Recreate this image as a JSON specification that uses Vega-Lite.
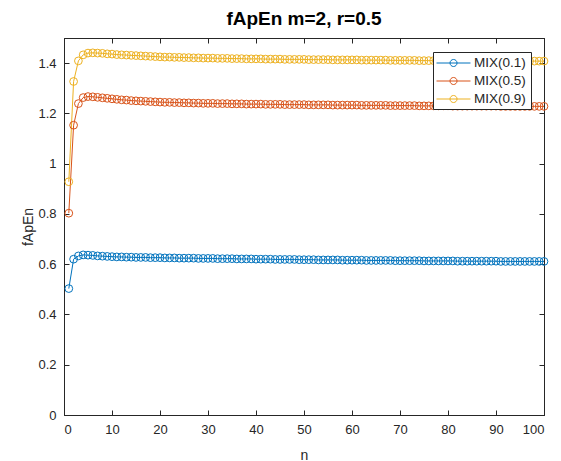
{
  "$schema": "https://vega.github.io/schema/vega-lite/v6.json",
  "autosize": {"type": "none"},
  "width": 480,
  "height": 377,
  "padding": {"left": 64, "top": 38, "right": 17, "bottom": 46},
  "background": "white",
  "title": {"text": "fApEn m=2, r=0.5", "fontSize": 19, "fontWeight": "bold", "font": "Liberation Sans", "color": "#000000", "anchor": "middle", "offset": 9},
  "config": {
    "font": "Liberation Sans",
    "view": {"stroke": "#262626", "strokeWidth": 1},
    "axis": {"grid": false, "domainColor": "#262626", "tickColor": "#262626", "labelColor": "#262626", "titleColor": "#262626", "labelFont": "Liberation Sans", "titleFont": "Liberation Sans", "labelFontSize": 13, "titleFontSize": 14, "titleFontWeight": "normal", "tickSize": -5, "labelPadding": 13}
  },
  "data": {"values": [
{"n":1,"s":"MIX(0.1)","v":0.503},{"n":2,"s":"MIX(0.1)","v":0.620},{"n":3,"s":"MIX(0.1)","v":0.633},{"n":4,"s":"MIX(0.1)","v":0.637},{"n":5,"s":"MIX(0.1)","v":0.636},{"n":6,"s":"MIX(0.1)","v":0.635},{"n":7,"s":"MIX(0.1)","v":0.633},{"n":8,"s":"MIX(0.1)","v":0.632},{"n":9,"s":"MIX(0.1)","v":0.631},{"n":10,"s":"MIX(0.1)","v":0.630},
{"n":11,"s":"MIX(0.1)","v":0.629},{"n":12,"s":"MIX(0.1)","v":0.629},{"n":13,"s":"MIX(0.1)","v":0.628},{"n":14,"s":"MIX(0.1)","v":0.628},{"n":15,"s":"MIX(0.1)","v":0.627},{"n":16,"s":"MIX(0.1)","v":0.627},{"n":17,"s":"MIX(0.1)","v":0.627},{"n":18,"s":"MIX(0.1)","v":0.626},{"n":19,"s":"MIX(0.1)","v":0.626},{"n":20,"s":"MIX(0.1)","v":0.626},
{"n":21,"s":"MIX(0.1)","v":0.625},{"n":22,"s":"MIX(0.1)","v":0.625},{"n":23,"s":"MIX(0.1)","v":0.625},{"n":24,"s":"MIX(0.1)","v":0.624},{"n":25,"s":"MIX(0.1)","v":0.624},{"n":26,"s":"MIX(0.1)","v":0.624},{"n":27,"s":"MIX(0.1)","v":0.624},{"n":28,"s":"MIX(0.1)","v":0.623},{"n":29,"s":"MIX(0.1)","v":0.623},{"n":30,"s":"MIX(0.1)","v":0.623},
{"n":31,"s":"MIX(0.1)","v":0.623},{"n":32,"s":"MIX(0.1)","v":0.622},{"n":33,"s":"MIX(0.1)","v":0.622},{"n":34,"s":"MIX(0.1)","v":0.622},{"n":35,"s":"MIX(0.1)","v":0.622},{"n":36,"s":"MIX(0.1)","v":0.621},{"n":37,"s":"MIX(0.1)","v":0.621},{"n":38,"s":"MIX(0.1)","v":0.621},{"n":39,"s":"MIX(0.1)","v":0.621},{"n":40,"s":"MIX(0.1)","v":0.620},
{"n":41,"s":"MIX(0.1)","v":0.620},{"n":42,"s":"MIX(0.1)","v":0.620},{"n":43,"s":"MIX(0.1)","v":0.620},{"n":44,"s":"MIX(0.1)","v":0.619},{"n":45,"s":"MIX(0.1)","v":0.619},{"n":46,"s":"MIX(0.1)","v":0.619},{"n":47,"s":"MIX(0.1)","v":0.619},{"n":48,"s":"MIX(0.1)","v":0.619},{"n":49,"s":"MIX(0.1)","v":0.618},{"n":50,"s":"MIX(0.1)","v":0.618},
{"n":51,"s":"MIX(0.1)","v":0.618},{"n":52,"s":"MIX(0.1)","v":0.618},{"n":53,"s":"MIX(0.1)","v":0.617},{"n":54,"s":"MIX(0.1)","v":0.617},{"n":55,"s":"MIX(0.1)","v":0.617},{"n":56,"s":"MIX(0.1)","v":0.617},{"n":57,"s":"MIX(0.1)","v":0.617},{"n":58,"s":"MIX(0.1)","v":0.616},{"n":59,"s":"MIX(0.1)","v":0.616},{"n":60,"s":"MIX(0.1)","v":0.616},
{"n":61,"s":"MIX(0.1)","v":0.616},{"n":62,"s":"MIX(0.1)","v":0.616},{"n":63,"s":"MIX(0.1)","v":0.615},{"n":64,"s":"MIX(0.1)","v":0.615},{"n":65,"s":"MIX(0.1)","v":0.615},{"n":66,"s":"MIX(0.1)","v":0.615},{"n":67,"s":"MIX(0.1)","v":0.615},{"n":68,"s":"MIX(0.1)","v":0.615},{"n":69,"s":"MIX(0.1)","v":0.614},{"n":70,"s":"MIX(0.1)","v":0.614},
{"n":71,"s":"MIX(0.1)","v":0.614},{"n":72,"s":"MIX(0.1)","v":0.614},{"n":73,"s":"MIX(0.1)","v":0.614},{"n":74,"s":"MIX(0.1)","v":0.614},{"n":75,"s":"MIX(0.1)","v":0.613},{"n":76,"s":"MIX(0.1)","v":0.613},{"n":77,"s":"MIX(0.1)","v":0.613},{"n":78,"s":"MIX(0.1)","v":0.613},{"n":79,"s":"MIX(0.1)","v":0.613},{"n":80,"s":"MIX(0.1)","v":0.613},
{"n":81,"s":"MIX(0.1)","v":0.613},{"n":82,"s":"MIX(0.1)","v":0.612},{"n":83,"s":"MIX(0.1)","v":0.612},{"n":84,"s":"MIX(0.1)","v":0.612},{"n":85,"s":"MIX(0.1)","v":0.612},{"n":86,"s":"MIX(0.1)","v":0.612},{"n":87,"s":"MIX(0.1)","v":0.612},{"n":88,"s":"MIX(0.1)","v":0.612},{"n":89,"s":"MIX(0.1)","v":0.612},{"n":90,"s":"MIX(0.1)","v":0.612},
{"n":91,"s":"MIX(0.1)","v":0.611},{"n":92,"s":"MIX(0.1)","v":0.611},{"n":93,"s":"MIX(0.1)","v":0.611},{"n":94,"s":"MIX(0.1)","v":0.611},{"n":95,"s":"MIX(0.1)","v":0.611},{"n":96,"s":"MIX(0.1)","v":0.611},{"n":97,"s":"MIX(0.1)","v":0.611},{"n":98,"s":"MIX(0.1)","v":0.611},{"n":99,"s":"MIX(0.1)","v":0.611},{"n":100,"s":"MIX(0.1)","v":0.611},
{"n":1,"s":"MIX(0.5)","v":0.803},{"n":2,"s":"MIX(0.5)","v":1.153},{"n":3,"s":"MIX(0.5)","v":1.239},{"n":4,"s":"MIX(0.5)","v":1.263},{"n":5,"s":"MIX(0.5)","v":1.267},{"n":6,"s":"MIX(0.5)","v":1.266},{"n":7,"s":"MIX(0.5)","v":1.264},{"n":8,"s":"MIX(0.5)","v":1.262},{"n":9,"s":"MIX(0.5)","v":1.260},{"n":10,"s":"MIX(0.5)","v":1.258},
{"n":11,"s":"MIX(0.5)","v":1.256},{"n":12,"s":"MIX(0.5)","v":1.254},{"n":13,"s":"MIX(0.5)","v":1.253},{"n":14,"s":"MIX(0.5)","v":1.251},{"n":15,"s":"MIX(0.5)","v":1.250},{"n":16,"s":"MIX(0.5)","v":1.249},{"n":17,"s":"MIX(0.5)","v":1.248},{"n":18,"s":"MIX(0.5)","v":1.247},{"n":19,"s":"MIX(0.5)","v":1.246},{"n":20,"s":"MIX(0.5)","v":1.245},
{"n":21,"s":"MIX(0.5)","v":1.244},{"n":22,"s":"MIX(0.5)","v":1.244},{"n":23,"s":"MIX(0.5)","v":1.243},{"n":24,"s":"MIX(0.5)","v":1.243},{"n":25,"s":"MIX(0.5)","v":1.242},{"n":26,"s":"MIX(0.5)","v":1.242},{"n":27,"s":"MIX(0.5)","v":1.241},{"n":28,"s":"MIX(0.5)","v":1.241},{"n":29,"s":"MIX(0.5)","v":1.240},{"n":30,"s":"MIX(0.5)","v":1.240},
{"n":31,"s":"MIX(0.5)","v":1.240},{"n":32,"s":"MIX(0.5)","v":1.239},{"n":33,"s":"MIX(0.5)","v":1.239},{"n":34,"s":"MIX(0.5)","v":1.239},{"n":35,"s":"MIX(0.5)","v":1.238},{"n":36,"s":"MIX(0.5)","v":1.238},{"n":37,"s":"MIX(0.5)","v":1.238},{"n":38,"s":"MIX(0.5)","v":1.237},{"n":39,"s":"MIX(0.5)","v":1.237},{"n":40,"s":"MIX(0.5)","v":1.237},
{"n":41,"s":"MIX(0.5)","v":1.237},{"n":42,"s":"MIX(0.5)","v":1.236},{"n":43,"s":"MIX(0.5)","v":1.236},{"n":44,"s":"MIX(0.5)","v":1.236},{"n":45,"s":"MIX(0.5)","v":1.236},{"n":46,"s":"MIX(0.5)","v":1.235},{"n":47,"s":"MIX(0.5)","v":1.235},{"n":48,"s":"MIX(0.5)","v":1.235},{"n":49,"s":"MIX(0.5)","v":1.235},{"n":50,"s":"MIX(0.5)","v":1.235},
{"n":51,"s":"MIX(0.5)","v":1.234},{"n":52,"s":"MIX(0.5)","v":1.234},{"n":53,"s":"MIX(0.5)","v":1.234},{"n":54,"s":"MIX(0.5)","v":1.234},{"n":55,"s":"MIX(0.5)","v":1.234},{"n":56,"s":"MIX(0.5)","v":1.233},{"n":57,"s":"MIX(0.5)","v":1.233},{"n":58,"s":"MIX(0.5)","v":1.233},{"n":59,"s":"MIX(0.5)","v":1.233},{"n":60,"s":"MIX(0.5)","v":1.233},
{"n":61,"s":"MIX(0.5)","v":1.233},{"n":62,"s":"MIX(0.5)","v":1.232},{"n":63,"s":"MIX(0.5)","v":1.232},{"n":64,"s":"MIX(0.5)","v":1.232},{"n":65,"s":"MIX(0.5)","v":1.232},{"n":66,"s":"MIX(0.5)","v":1.232},{"n":67,"s":"MIX(0.5)","v":1.232},{"n":68,"s":"MIX(0.5)","v":1.231},{"n":69,"s":"MIX(0.5)","v":1.231},{"n":70,"s":"MIX(0.5)","v":1.231},
{"n":71,"s":"MIX(0.5)","v":1.231},{"n":72,"s":"MIX(0.5)","v":1.231},{"n":73,"s":"MIX(0.5)","v":1.231},{"n":74,"s":"MIX(0.5)","v":1.230},{"n":75,"s":"MIX(0.5)","v":1.230},{"n":76,"s":"MIX(0.5)","v":1.230},{"n":77,"s":"MIX(0.5)","v":1.230},{"n":78,"s":"MIX(0.5)","v":1.230},{"n":79,"s":"MIX(0.5)","v":1.230},{"n":80,"s":"MIX(0.5)","v":1.230},
{"n":81,"s":"MIX(0.5)","v":1.229},{"n":82,"s":"MIX(0.5)","v":1.229},{"n":83,"s":"MIX(0.5)","v":1.229},{"n":84,"s":"MIX(0.5)","v":1.229},{"n":85,"s":"MIX(0.5)","v":1.229},{"n":86,"s":"MIX(0.5)","v":1.229},{"n":87,"s":"MIX(0.5)","v":1.229},{"n":88,"s":"MIX(0.5)","v":1.229},{"n":89,"s":"MIX(0.5)","v":1.229},{"n":90,"s":"MIX(0.5)","v":1.229},
{"n":91,"s":"MIX(0.5)","v":1.228},{"n":92,"s":"MIX(0.5)","v":1.228},{"n":93,"s":"MIX(0.5)","v":1.228},{"n":94,"s":"MIX(0.5)","v":1.228},{"n":95,"s":"MIX(0.5)","v":1.228},{"n":96,"s":"MIX(0.5)","v":1.228},{"n":97,"s":"MIX(0.5)","v":1.228},{"n":98,"s":"MIX(0.5)","v":1.228},{"n":99,"s":"MIX(0.5)","v":1.228},{"n":100,"s":"MIX(0.5)","v":1.228},
{"n":1,"s":"MIX(0.9)","v":0.928},{"n":2,"s":"MIX(0.9)","v":1.327},{"n":3,"s":"MIX(0.9)","v":1.409},{"n":4,"s":"MIX(0.9)","v":1.433},{"n":5,"s":"MIX(0.9)","v":1.440},{"n":6,"s":"MIX(0.9)","v":1.441},{"n":7,"s":"MIX(0.9)","v":1.440},{"n":8,"s":"MIX(0.9)","v":1.439},{"n":9,"s":"MIX(0.9)","v":1.437},{"n":10,"s":"MIX(0.9)","v":1.436},
{"n":11,"s":"MIX(0.9)","v":1.434},{"n":12,"s":"MIX(0.9)","v":1.433},{"n":13,"s":"MIX(0.9)","v":1.432},{"n":14,"s":"MIX(0.9)","v":1.431},{"n":15,"s":"MIX(0.9)","v":1.430},{"n":16,"s":"MIX(0.9)","v":1.429},{"n":17,"s":"MIX(0.9)","v":1.428},{"n":18,"s":"MIX(0.9)","v":1.427},{"n":19,"s":"MIX(0.9)","v":1.426},{"n":20,"s":"MIX(0.9)","v":1.425},
{"n":21,"s":"MIX(0.9)","v":1.424},{"n":22,"s":"MIX(0.9)","v":1.424},{"n":23,"s":"MIX(0.9)","v":1.423},{"n":24,"s":"MIX(0.9)","v":1.423},{"n":25,"s":"MIX(0.9)","v":1.422},{"n":26,"s":"MIX(0.9)","v":1.422},{"n":27,"s":"MIX(0.9)","v":1.421},{"n":28,"s":"MIX(0.9)","v":1.421},{"n":29,"s":"MIX(0.9)","v":1.420},{"n":30,"s":"MIX(0.9)","v":1.420},
{"n":31,"s":"MIX(0.9)","v":1.420},{"n":32,"s":"MIX(0.9)","v":1.419},{"n":33,"s":"MIX(0.9)","v":1.419},{"n":34,"s":"MIX(0.9)","v":1.419},{"n":35,"s":"MIX(0.9)","v":1.418},{"n":36,"s":"MIX(0.9)","v":1.418},{"n":37,"s":"MIX(0.9)","v":1.418},{"n":38,"s":"MIX(0.9)","v":1.417},{"n":39,"s":"MIX(0.9)","v":1.417},{"n":40,"s":"MIX(0.9)","v":1.417},
{"n":41,"s":"MIX(0.9)","v":1.417},{"n":42,"s":"MIX(0.9)","v":1.416},{"n":43,"s":"MIX(0.9)","v":1.416},{"n":44,"s":"MIX(0.9)","v":1.416},{"n":45,"s":"MIX(0.9)","v":1.416},{"n":46,"s":"MIX(0.9)","v":1.415},{"n":47,"s":"MIX(0.9)","v":1.415},{"n":48,"s":"MIX(0.9)","v":1.415},{"n":49,"s":"MIX(0.9)","v":1.415},{"n":50,"s":"MIX(0.9)","v":1.415},
{"n":51,"s":"MIX(0.9)","v":1.414},{"n":52,"s":"MIX(0.9)","v":1.414},{"n":53,"s":"MIX(0.9)","v":1.414},{"n":54,"s":"MIX(0.9)","v":1.414},{"n":55,"s":"MIX(0.9)","v":1.414},{"n":56,"s":"MIX(0.9)","v":1.413},{"n":57,"s":"MIX(0.9)","v":1.413},{"n":58,"s":"MIX(0.9)","v":1.413},{"n":59,"s":"MIX(0.9)","v":1.413},{"n":60,"s":"MIX(0.9)","v":1.413},
{"n":61,"s":"MIX(0.9)","v":1.413},{"n":62,"s":"MIX(0.9)","v":1.412},{"n":63,"s":"MIX(0.9)","v":1.412},{"n":64,"s":"MIX(0.9)","v":1.412},{"n":65,"s":"MIX(0.9)","v":1.412},{"n":66,"s":"MIX(0.9)","v":1.412},{"n":67,"s":"MIX(0.9)","v":1.412},{"n":68,"s":"MIX(0.9)","v":1.411},{"n":69,"s":"MIX(0.9)","v":1.411},{"n":70,"s":"MIX(0.9)","v":1.411},
{"n":71,"s":"MIX(0.9)","v":1.411},{"n":72,"s":"MIX(0.9)","v":1.411},{"n":73,"s":"MIX(0.9)","v":1.411},{"n":74,"s":"MIX(0.9)","v":1.410},{"n":75,"s":"MIX(0.9)","v":1.410},{"n":76,"s":"MIX(0.9)","v":1.410},{"n":77,"s":"MIX(0.9)","v":1.410},{"n":78,"s":"MIX(0.9)","v":1.410},{"n":79,"s":"MIX(0.9)","v":1.410},{"n":80,"s":"MIX(0.9)","v":1.410},
{"n":81,"s":"MIX(0.9)","v":1.409},{"n":82,"s":"MIX(0.9)","v":1.409},{"n":83,"s":"MIX(0.9)","v":1.409},{"n":84,"s":"MIX(0.9)","v":1.409},{"n":85,"s":"MIX(0.9)","v":1.409},{"n":86,"s":"MIX(0.9)","v":1.409},{"n":87,"s":"MIX(0.9)","v":1.409},{"n":88,"s":"MIX(0.9)","v":1.409},{"n":89,"s":"MIX(0.9)","v":1.409},{"n":90,"s":"MIX(0.9)","v":1.409},
{"n":91,"s":"MIX(0.9)","v":1.408},{"n":92,"s":"MIX(0.9)","v":1.408},{"n":93,"s":"MIX(0.9)","v":1.408},{"n":94,"s":"MIX(0.9)","v":1.408},{"n":95,"s":"MIX(0.9)","v":1.408},{"n":96,"s":"MIX(0.9)","v":1.408},{"n":97,"s":"MIX(0.9)","v":1.408},{"n":98,"s":"MIX(0.9)","v":1.408},{"n":99,"s":"MIX(0.9)","v":1.408},{"n":100,"s":"MIX(0.9)","v":1.408}
  ]},
  "resolve": {"axis": {"x": "independent", "y": "independent"}},
  "layer": [
    {
      "mark": {"type": "line", "strokeWidth": 1},
      "encoding": {
        "x": {"field": "n", "type": "quantitative", "scale": {"domain": [0, 100], "nice": false}, "axis": {"orient": "bottom", "values": [0,10,20,30,40,50,60,70,80,90,100], "title": "n", "titlePadding": 12}},
        "y": {"field": "v", "type": "quantitative", "scale": {"domain": [0, 1.5], "nice": false, "zero": true}, "axis": {"orient": "left", "values": [0,0.2,0.4,0.6,0.8,1,1.2,1.4], "format": ".2~f", "title": "fApEn", "titlePadding": 2}},
        "color": {"field": "s", "type": "nominal", "scale": {"domain": ["MIX(0.1)", "MIX(0.5)", "MIX(0.9)"], "range": ["#0072BD", "#D95319", "#EDB120"]}, "legend": {
          "title": "\u00a0\u00a0\u00a0\u00a0", "titleOrient": "right", "titlePadding": 2, "titleFontSize": 13, "titleFont": "Liberation Sans",
          "orient": "none", "legendX": 369, "legendY": 14,
          "fillColor": "white", "strokeColor": "#262626", "padding": 3,
          "symbolType": "M-1,0H3.53M0.8,0A0.47,0.47 0 1,0 1.74,0A0.47,0.47 0 1,0 0.8,0",
          "symbolSize": 225, "symbolStrokeWidth": 1, "symbolFillColor": "transparent",
          "labelFontSize": 13.5, "labelFont": "Liberation Sans", "labelColor": "#262626", "labelOffset": 22, "rowPadding": 3
        }},
        "detail": {"field": "s"}
      }
    },
    {
      "mark": {"type": "point", "filled": false, "size": 60, "strokeWidth": 1, "opacity": 1},
      "encoding": {
        "x": {"field": "n", "type": "quantitative", "axis": {"orient": "top", "values": [0,10,20,30,40,50,60,70,80,90,100], "labels": false, "title": null, "domain": true}},
        "y": {"field": "v", "type": "quantitative", "axis": {"orient": "right", "values": [0,0.2,0.4,0.6,0.8,1,1.2,1.4], "labels": false, "title": null, "domain": true}},
        "color": {"field": "s", "type": "nominal"}
      }
    }
  ]
}
